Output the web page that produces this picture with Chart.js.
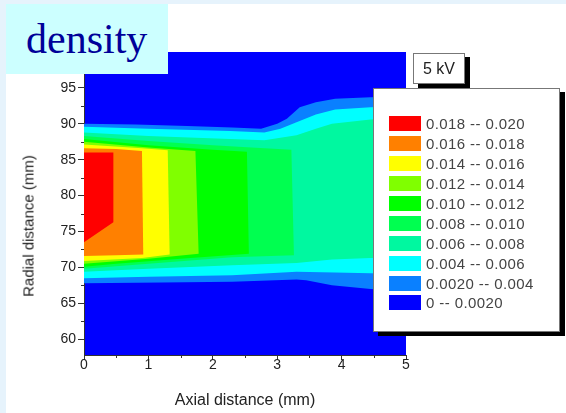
<!DOCTYPE html>
<html>
<head>
<meta charset="utf-8">
<script src="https://cdn.jsdelivr.net/npm/chart.js@4/dist/chart.umd.min.js"></script>
<style>
  body { margin: 0; width: 566px; height: 413px; background: #e6f3fc; overflow: hidden; position: relative; font-family: Arial, "Liberation Sans", sans-serif; }
  #hoja { position: absolute; left: 6px; top: 4px; right: 0; bottom: 0; background: #fff; }
  #grafica { position: absolute; left: 0; top: 0; }
  #titulo { position: absolute; left: 6px; top: 4px; width: 162px; height: 70px; background: #ccffff; }
  #titulo span { position: absolute; left: 20px; top: 14px; font: 42px/42px "Liberation Serif", "Times New Roman", serif; color: #000099; }
  #tituloY { position: absolute; left: 28px; top: 226px; transform: translate(-50%, -50%) rotate(-90deg); font-size: 15px; color: #222; white-space: nowrap; }
  #voltaje { position: absolute; left: 413px; top: 53px; width: 52px; height: 31px; box-sizing: border-box; border: 1px solid #777; background: #fff; box-shadow: 5px 4px 0 #000; font-size: 16px; color: #222; text-align: center; line-height: 29px; }
  #leyenda { position: absolute; left: 373px; top: 88px; width: 187px; height: 244px; box-sizing: border-box; border: 1px solid #777; background: #fff; box-shadow: 5px 4px 0 #000; padding-top: 25px; }
  .fila { height: 19.9px; display: flex; align-items: center; font-size: 15px; color: #444; white-space: pre; letter-spacing: 0.4px; }
  .muestra { width: 32px; height: 15px; margin-left: 15px; margin-right: 5px; }
</style>
</head>
<body>
<div id="hoja"></div>
<canvas id="grafica" width="566" height="413"></canvas>
<div id="titulo"><span>density</span></div>
<div id="tituloY">Radial distance (mm)</div>
<div id="voltaje">5 kV</div>
<div id="leyenda"></div>
<script>
// Ejes
const ejeX = [0, 1, 2, 3, 4, 5];
const ejeY = [60, 65, 70, 75, 80, 85, 90, 95];

// Niveles de densidad (de mayor a menor, como en la leyenda)
const etiquetasLeyenda = ["0.018 -- 0.020", "0.016 -- 0.018", "0.014 -- 0.016", "0.012 -- 0.014", "0.010 -- 0.012",
                          "0.008 -- 0.010", "0.006 -- 0.008", "0.004 -- 0.006", "0.0020 -- 0.004", "0 -- 0.0020"];
const coloresLeyenda = ["#ff0000", "#ff8000", "#ffff00", "#80ff00", "#00ff00",
                        "#00ff50", "#00f8a0", "#00ffff", "#0a80ff", "#0000ff"];

// Contornos (x en mm, y en mm), del nivel mas bajo al mas alto
const contorno0002 = [[0, 90.0], [0.8, 89.9], [1.6, 89.7], [2.3, 89.5], [2.75, 89.3], [3.0, 90.0], [3.15, 90.7], [3.35, 92.3], [3.6, 93.0], [3.9, 93.5], [4.45, 93.7], [5, 93.8],
                      [5, 66.8], [4.45, 67.0], [3.85, 67.5], [3.45, 68.2], [3.3, 68.3], [2.3, 68.0], [1.2, 67.9], [0, 67.8]];
const contorno0004 = [[0, 89.6], [1, 89.3], [2.27, 89.0], [2.8, 88.8], [3.05, 89.3], [3.3, 90.2], [3.6, 91.3], [3.9, 92.0], [4.45, 92.3], [5, 92.4],
                      [5, 69.1], [4.45, 69.2], [3.9, 69.3], [3.3, 69.4], [2.3, 68.9], [1, 68.7], [0, 68.5]];
const contorno0006 = [[0, 88.8], [1, 88.3], [2.27, 87.9], [2.8, 87.7], [3.3, 88.4], [3.6, 89.3], [3.85, 90.0], [4.45, 90.6], [5, 90.8],
                      [5, 71.4], [4.45, 71.3], [3.85, 71.1], [3.3, 70.6], [2.3, 70.3], [1, 69.8], [0, 69.4]];
const contorno0008 = [[0, 88.3], [1, 87.6], [2, 87.0], [2.6, 86.7], [3.22, 86.4], [3.26, 71.7], [2.3, 71.4], [1, 70.5], [0, 69.8]];
const contorno0010 = [[0, 87.9], [1, 87.0], [2, 86.4], [2.53, 86.1], [2.56, 71.9], [1.5, 71.2], [0.5, 70.5], [0, 70.1]];
const contorno0012 = [[0, 87.5], [1, 86.7], [1.73, 86.2], [1.78, 71.9], [1.0, 71.2], [0, 70.5]];
const contorno0014 = [[0, 87.1], [0.9, 86.6], [1.3, 86.3], [1.33, 71.8], [0.9, 71.3], [0, 70.9]];
const contorno0016 = [[0, 86.6], [0.5, 86.5], [0.9, 86.2], [0.92, 71.8], [0.5, 71.7], [0, 71.6]];
const contorno0018 = [[0, 86.0], [0.456, 86.0], [0.456, 76.3], [0, 73.5]];

const contornos = [contorno0002, contorno0004, contorno0006, contorno0008, contorno0010,
                   contorno0012, contorno0014, contorno0016, contorno0018];
const coloresContorno = coloresLeyenda.slice(0, 9).reverse();

// Leyenda
const leyenda = document.getElementById("leyenda");
etiquetasLeyenda.forEach((texto, i) => {
    const fila = document.createElement("div");
    fila.className = "fila";
    fila.innerHTML = `<div class="muestra" style="background:${coloresLeyenda[i]}"></div><span>${texto}</span>`;
    leyenda.appendChild(fila);
});

// Fondo azul del area y marcas menores de los ejes
const fondoYMarcas = {
    id: "fondoYMarcas",
    beforeDraw(chart) {
        const { ctx, chartArea } = chart;
        ctx.save();
        ctx.fillStyle = coloresLeyenda[coloresLeyenda.length - 1];
        ctx.fillRect(chartArea.left, chartArea.top, chartArea.right - chartArea.left, chartArea.bottom - chartArea.top);
        ctx.restore();
    },
    afterDraw(chart) {
        const { ctx, chartArea, scales } = chart;
        ctx.save();
        ctx.strokeStyle = "#333";
        ctx.lineWidth = 1;
        ctx.beginPath();
        const pasoX = ejeX[1] - ejeX[0];
        for (let v = ejeX[0] + pasoX / 2; v < scales.x.max; v += pasoX) {
            const px = Math.round(scales.x.getPixelForValue(v)) + 0.5;
            ctx.moveTo(px, chartArea.bottom);
            ctx.lineTo(px, chartArea.bottom + 3);
        }
        const pasoY = ejeY[1] - ejeY[0];
        for (let v = ejeY[0] - pasoY / 2; v < scales.y.max; v += pasoY) {
            if (v < scales.y.min) continue;
            const py = Math.round(scales.y.getPixelForValue(v)) + 0.5;
            ctx.moveTo(chartArea.left, py);
            ctx.lineTo(chartArea.left - 3, py);
        }
        ctx.stroke();
        ctx.restore();
    }
};

new Chart(document.getElementById("grafica"), {
    type: "line",
    data: {
        datasets: contornos.map((puntos, i) => ({
            label: etiquetasLeyenda[8 - i],
            data: puntos.map(([x, y]) => ({ x, y })),
            fill: "shape",
            backgroundColor: coloresContorno[i],
            borderColor: "rgba(0,0,0,0)",
            borderWidth: 0,
            pointRadius: 0,
            pointHitRadius: 0,
            tension: 0,
            order: contornos.length - i
        }))
    },
    options: {
        responsive: false,
        animation: false,
        events: [],
        layout: { padding: { top: 52, right: 160, left: 0, bottom: 0 } },
        plugins: { legend: { display: false }, tooltip: { enabled: false } },
        scales: {
            x: {
                type: "linear",
                min: 0,
                max: 5,
                z: 1,
                afterBuildTicks: s => { s.ticks = ejeX.map(v => ({ value: v })); },
                afterFit: s => { s.height = 58; },
                ticks: { color: "#222", font: { size: 14, family: "Arial, 'Liberation Sans', sans-serif" }, padding: -3 },
                grid: { display: true, drawOnChartArea: false, drawTicks: true, tickLength: 5, tickColor: "#333" },
                border: { display: true, color: "#333", width: 1 },
                title: { display: true, text: "Axial distance (mm)", color: "#222", font: { size: 16, family: "Arial, 'Liberation Sans', sans-serif" }, padding: { top: 0, bottom: 3 } }
            },
            y: {
                type: "linear",
                min: 57.8,
                max: 100,
                z: 1,
                afterBuildTicks: s => { s.ticks = ejeY.map(v => ({ value: v })); },
                afterFit: s => { s.width = 84; },
                ticks: { color: "#222", font: { size: 14, family: "Arial, 'Liberation Sans', sans-serif" }, padding: 2 },
                grid: { display: true, drawOnChartArea: false, drawTicks: true, tickLength: 6, tickColor: "#333" },
                border: { display: true, color: "#333", width: 1 }
            }
        }
    },
    plugins: [fondoYMarcas]
});
</script>
</body>
</html>
